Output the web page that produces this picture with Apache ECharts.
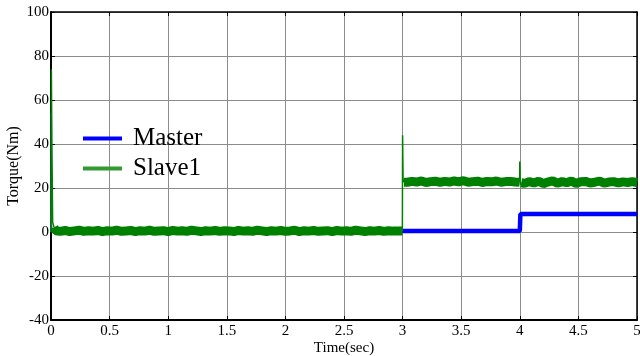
<!DOCTYPE html>
<html>
<head>
<meta charset="utf-8">
<script src="https://cdn.jsdelivr.net/npm/echarts@6/dist/echarts.min.js"></script>
<style>
  html, body { margin: 0; padding: 0; background: #fff; }
  #chart { width: 640px; height: 356px; }
</style>
</head>
<body>
<div id="chart"></div>
<script>
// Torque response of the master and slave drives (0-5 s)
const xTicks = [0, 0.5, 1, 1.5, 2, 2.5, 3, 3.5, 4, 4.5, 5];
const yTicks = [-40, -20, 0, 20, 40, 60, 80, 100];

// Master torque: start-up spike, zero load, load step at 4 s
const masterStartTime   = [0, 0.003, 0.007, 0.015];
const masterStartTorque = [0, 54, 3, 0.4];
const masterTime   = [0.015, 4.0, 4.005, 5.0];
const masterTorque = [0.4, 0.4, 8.2, 8.2];

// Slave1 transients (start-up, load step at 3 s, master step at 4 s)
const slaveStartTime   = [0, 0.003, 0.008, 0.014, 0.025];
const slaveStartTorque = [0, 74, 38, 4.5, 2.2];
const slaveStep3Time   = [2.998, 3.0, 3.004, 3.012];
const slaveStep3Torque = [0.5, 44, 24, 22.6];
const slaveStep4Time   = [3.998, 4.0, 4.004, 4.012];
const slaveStep4Torque = [22.6, 32, 21.5, 22.4];

// Slave1 steady-state torque, sampled every 0.04 s
const sampleStep = 0.04;
const slaveSeg0to3 = [
  0.6, 0.3, 0.7, 0.2, 0.5, 0.8, 0.3, 0.6, 0.4, 0.7,
  0.2, 0.6, 0.4, 0.8, 0.3, 0.5, 0.7, 0.2, 0.6, 0.4,
  0.8, 0.3, 0.5, 0.6, 0.2, 0.7, 0.4, 0.6, 0.3, 0.8,
  0.5, 0.2, 0.6, 0.4, 0.7, 0.3, 0.6, 0.5, 0.2, 0.7,
  0.4, 0.6, 0.3, 0.8, 0.5, 0.2, 0.6, 0.4, 0.7, 0.3,
  0.5, 0.8, 0.2, 0.6, 0.4, 0.7, 0.3, 0.5, 0.6, 0.2,
  0.7, 0.4, 0.6, 0.3, 0.8, 0.5, 0.2, 0.6, 0.4, 0.7,
  0.3, 0.6, 0.4, 0.5
];
const slaveSeg3to4 = [
  22.6, 23.0, 22.7, 23.2, 22.5, 22.9, 23.1, 22.6, 23.0, 22.7,
  23.2, 22.8, 23.3, 22.6, 22.9, 23.1, 22.5, 23.0, 22.8, 23.2,
  22.6, 22.9, 23.0, 22.7
];
const slaveSeg4to5 = [
  22.1, 22.9, 22.3, 23.1, 22.0, 22.7, 23.3, 22.2, 22.9, 22.4,
  23.2, 22.1, 22.8, 23.0, 22.3, 22.6, 23.2, 22.2, 22.7, 22.9,
  22.3, 22.8, 22.5, 22.9, 22.4
];

function zip(ts, vs) { return ts.map((t, i) => [t, vs[i]]); }
function sampled(t0, vs) {
  return vs.map((v, i) => [+(t0 + (i + 1) * sampleStep).toFixed(3), v]);
}
const gap = [null, null];

const masterSpike = zip(masterStartTime, masterStartTorque);
const masterData = zip(masterTime, masterTorque);
// steady band: each segment starts where its transient settles
const slaveBand = [].concat(
  [[0.025, 2.2]], sampled(0, slaveSeg0to3), [[2.998, 0.5]], [gap],
  [[3.012, 22.6]], sampled(3, slaveSeg3to4), [[3.998, 22.6]], [gap],
  [[4.012, 22.4]], sampled(4, slaveSeg4to5)
);
const slaveSpikes = [].concat(
  zip(slaveStartTime, slaveStartTorque), [gap],
  zip(slaveStep3Time, slaveStep3Torque), [gap],
  zip(slaveStep4Time, slaveStep4Torque)
);

const serif = "'Liberation Serif', 'Times New Roman', serif";
const gridColor = '#8c8c8c';
const masterColor = '#0000ff';
const slaveColor = '#008000';

const chart = echarts.init(document.getElementById('chart'), null, { renderer: 'canvas' });

const tickStyle = { show: true, inside: true, length: 4, lineStyle: { color: '#000', width: 1 } };
const baseX = { type: 'value', min: 0, max: 5, interval: 0.5, axisTick: tickStyle, splitLine: { show: false } };
const baseY = { type: 'value', min: -40, max: 100, interval: 20, axisTick: tickStyle, splitLine: { show: false } };

chart.setOption({
  animation: false,
  backgroundColor: '#fff',
  grid: { left: 51, right: 3, top: 12, bottom: 36, containLabel: false, outerBoundsMode: 'none' },
  legend: {
    orient: 'vertical',
    left: 78,
    top: 121,
    itemWidth: 39,
    itemHeight: 4,
    itemGap: 5,
    icon: 'rect',
    textStyle: { fontFamily: serif, fontSize: 25, color: '#000', padding: [0, 0, 0, 6] },
    data: [
      { name: 'Master', icon: 'rect', itemStyle: { color: masterColor } },
      { name: 'Slave1', icon: 'rect', itemStyle: { color: '#339933' } }
    ]
  },
  xAxis: [
    Object.assign({}, baseX, {
      position: 'bottom',
      name: 'Time(sec)',
      nameLocation: 'middle',
      nameGap: 21,
      nameMoveOverlap: false,
      nameTextStyle: { fontFamily: serif, fontSize: 15, color: '#000' },
      axisLine: { show: true, onZero: false, lineStyle: { color: '#000', width: 2 } },
      axisLabel: { fontFamily: serif, fontSize: 15, color: '#000', margin: 4 },
      splitLine: { show: true, lineStyle: { color: gridColor, width: 1 } }
    }),
    Object.assign({}, baseX, {
      position: 'top',
      axisLine: { show: true, onZero: false, lineStyle: { color: '#000', width: 1.5 } },
      axisLabel: { show: false }
    })
  ],
  yAxis: [
    Object.assign({}, baseY, {
      position: 'left',
      name: 'Torque(Nm)',
      nameLocation: 'middle',
      nameGap: 29,
      nameMoveOverlap: false,
      nameTextStyle: { fontFamily: serif, fontSize: 16, color: '#000' },
      axisLine: { show: true, onZero: false, lineStyle: { color: '#000', width: 2 } },
      axisLabel: { fontFamily: serif, fontSize: 15, color: '#000', margin: 2 },
      splitLine: { show: true, lineStyle: { color: gridColor, width: 1 } }
    }),
    Object.assign({}, baseY, {
      position: 'right',
      axisLine: { show: true, onZero: false, lineStyle: { color: '#000', width: 1.5 } },
      axisLabel: { show: false }
    })
  ],
  series: [
    {
      name: 'Master', type: 'line', data: masterSpike, symbol: 'none',
      color: masterColor, lineStyle: { color: '#6f6fff', width: 1 }, z: 2
    },
    {
      name: 'Master', type: 'line', data: masterData, symbol: 'none',
      color: masterColor, lineStyle: { color: masterColor, width: 4.5 }, z: 2
    },
    {
      name: 'Slave1', type: 'line', data: slaveBand, symbol: 'none', connectNulls: false,
      color: slaveColor, lineStyle: { color: slaveColor, width: 9, cap: 'butt', join: 'bevel' }, z: 3
    },
    {
      name: 'Slave1', type: 'line', data: slaveSpikes, symbol: 'none', connectNulls: false,
      color: slaveColor, lineStyle: { color: slaveColor, width: 1.5 }, z: 3
    }
  ]
});
</script>
</body>
</html>
